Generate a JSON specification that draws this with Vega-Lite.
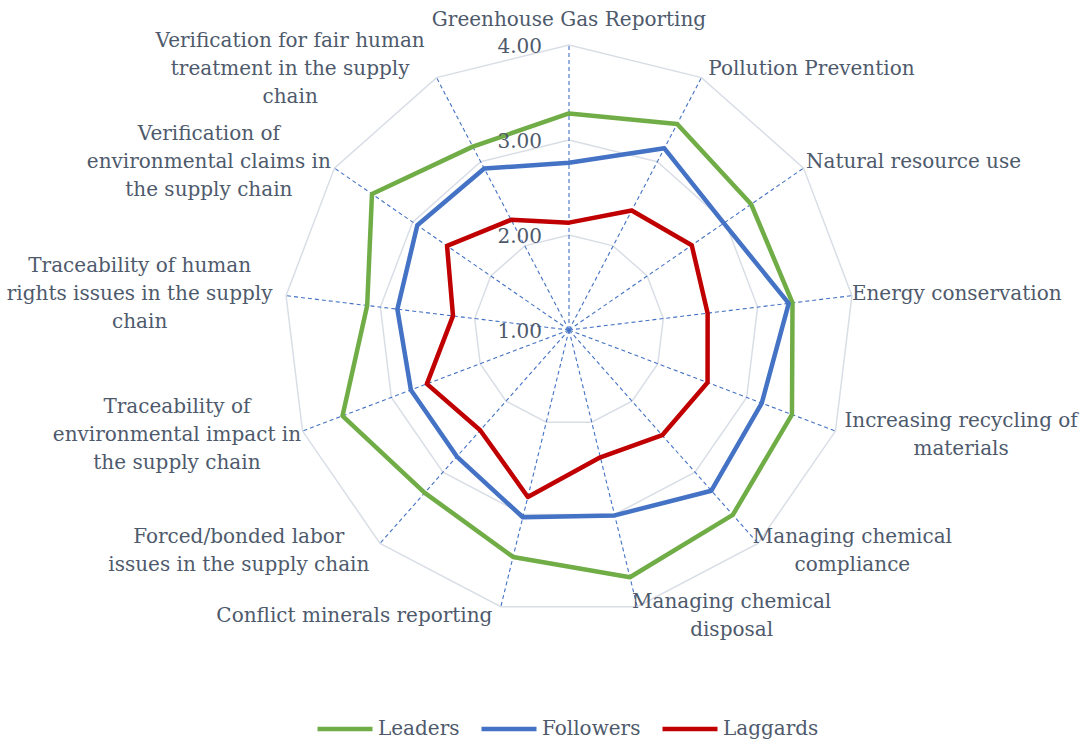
{
  "$schema": "https://vega.github.io/schema/vega-lite/v6.json",
  "width": 570,
  "height": 570,
  "autosize": {"type": "none"},
  "padding": {"left": 284, "top": 45, "right": 230, "bottom": 127},
  "background": "white",
  "config": {"view": {"stroke": null}, "font": "DejaVu Serif"},
  "datasets": {
    "cats": [
      {"category": "Greenhouse Gas Reporting", "label": "Greenhouse Gas Reporting", "Leaders": 3.28, "Followers": 2.76, "Laggards": 2.13},
      {"category": "Pollution Prevention", "label": "Pollution Prevention", "Leaders": 3.45, "Followers": 3.16, "Laggards": 2.42},
      {"category": "Natural resource use", "label": "Natural resource use", "Leaders": 3.33, "Followers": 2.98, "Laggards": 2.57},
      {"category": "Energy conservation", "label": "Energy conservation", "Leaders": 3.37, "Followers": 3.33, "Laggards": 2.47},
      {"category": "Increasing recycling of materials", "label": "Increasing recycling of\nmaterials", "Leaders": 3.51, "Followers": 3.17, "Laggards": 2.56},
      {"category": "Managing chemical compliance", "label": "Managing chemical\ncompliance", "Leaders": 3.60, "Followers": 3.26, "Laggards": 2.48},
      {"category": "Managing chemical disposal", "label": "Managing chemical\ndisposal", "Leaders": 3.68, "Followers": 3.01, "Laggards": 2.38},
      {"category": "Conflict minerals reporting", "label": "Conflict minerals reporting", "Leaders": 3.46, "Followers": 3.03, "Laggards": 2.81},
      {"category": "Forced/bonded labor issues in the supply chain", "label": "Forced/bonded labor\nissues in the supply chain", "Leaders": 3.29, "Followers": 2.78, "Laggards": 2.41},
      {"category": "Traceability of environmental impact in the supply chain", "label": "Traceability of\nenvironmental impact in\nthe supply chain", "Leaders": 3.55, "Followers": 2.78, "Laggards": 2.60},
      {"category": "Traceability of human rights issues in the supply chain", "label": "Traceability of human\nrights issues in the supply\nchain", "Leaders": 3.14, "Followers": 2.82, "Laggards": 2.23},
      {"category": "Verification of environmental claims in the supply chain", "label": "Verification of\nenvironmental claims in\nthe supply chain", "Leaders": 3.52, "Followers": 2.94, "Laggards": 2.56},
      {"category": "Verification for fair human treatment in the supply chain", "label": "Verification for fair human\ntreatment in the supply\nchain", "Leaders": 3.18, "Followers": 2.92, "Laggards": 2.31}
    ],
    "ticks": [
      {"level": 1, "text": "1.00"},
      {"level": 2, "text": "2.00"},
      {"level": 3, "text": "3.00"},
      {"level": 4, "text": "4.00"}
    ]
  },
  "layer": [
    {
      "data": {"name": "cats"},
      "transform": [
        {"window": [{"op": "row_number", "as": "rn"}]},
        {"calculate": "(datum.rn - 1) * 2 * PI / 13", "as": "angle"},
        {"calculate": "[2, 3, 4]", "as": "lv"},
        {"flatten": ["lv"]},
        {"calculate": "(datum.lv - 1) * sin(datum.angle)", "as": "rx"},
        {"calculate": "(datum.lv - 1) * cos(datum.angle)", "as": "ry"}
      ],
      "mark": {"type": "line", "interpolate": "linear-closed", "color": "#D9DEE6", "strokeWidth": 1.5},
      "encoding": {
        "x": {"field": "rx", "type": "quantitative", "scale": {"domain": [-3, 3], "nice": false, "zero": false}, "axis": null},
        "y": {"field": "ry", "type": "quantitative", "scale": {"domain": [-3, 3], "nice": false, "zero": false}, "axis": null},
        "detail": {"field": "lv"},
        "order": {"field": "rn", "type": "quantitative"}
      }
    },
    {
      "data": {"name": "cats"},
      "transform": [
        {"window": [{"op": "row_number", "as": "rn"}]},
        {"calculate": "(datum.rn - 1) * 2 * PI / 13", "as": "angle"},
        {"calculate": "0", "as": "zero"},
        {"calculate": "3 * sin(datum.angle)", "as": "sx"},
        {"calculate": "3 * cos(datum.angle)", "as": "sy"}
      ],
      "mark": {"type": "rule", "color": "#4472C4", "strokeWidth": 1.1, "strokeDash": [4, 3]},
      "encoding": {
        "x": {"field": "zero", "type": "quantitative"},
        "y": {"field": "zero", "type": "quantitative"},
        "x2": {"field": "sx"},
        "y2": {"field": "sy"}
      }
    },
    {
      "data": {"name": "cats"},
      "transform": [
        {"window": [{"op": "row_number", "as": "rn"}]},
        {"calculate": "(datum.rn - 1) * 2 * PI / 13", "as": "angle"},
        {"fold": ["Leaders", "Followers", "Laggards"], "as": ["group", "value"]},
        {"calculate": "(datum.value - 1) * sin(datum.angle)", "as": "px"},
        {"calculate": "(datum.value - 1) * cos(datum.angle)", "as": "py"}
      ],
      "mark": {"type": "line", "interpolate": "linear-closed", "strokeWidth": 4.5, "strokeJoin": "round"},
      "encoding": {
        "x": {"field": "px", "type": "quantitative"},
        "y": {"field": "py", "type": "quantitative"},
        "order": {"field": "rn", "type": "quantitative"},
        "color": {
          "field": "group",
          "type": "nominal",
          "sort": ["Leaders", "Followers", "Laggards"],
          "scale": {"domain": ["Leaders", "Followers", "Laggards"], "range": ["#70AD47", "#4472C4", "#C00000"]},
          "legend": {
            "title": null,
            "orient": "none",
            "direction": "horizontal",
            "legendX": 31,
            "legendY": 654,
            "padding": 0,
            "symbolType": "stroke",
            "symbolSize": 3025,
            "symbolStrokeWidth": 4.5,
            "labelFont": "DejaVu Serif",
            "labelFontSize": 20,
            "labelColor": "#4E5A6C",
            "labelOffset": 3,
            "columnPadding": 12
          }
        }
      }
    },
    {
      "data": {"name": "ticks"},
      "transform": [
        {"calculate": "0", "as": "zero"},
        {"calculate": "datum.level - 1", "as": "ty"}
      ],
      "mark": {"type": "text", "align": "right", "baseline": "middle", "dx": -27, "dy": 2, "fontSize": 20, "font": "DejaVu Serif", "color": "#4E5A6C"},
      "encoding": {
        "x": {"field": "zero", "type": "quantitative"},
        "y": {"field": "ty", "type": "quantitative"},
        "text": {"field": "text"}
      }
    },
    {
      "data": {"name": "cats"},
      "transform": [
        {"window": [{"op": "row_number", "as": "rn"}]},
        {"calculate": "(datum.rn - 1) * 2 * PI / 13", "as": "angle"},
        {"calculate": "split(datum.label, '\\n')", "as": "lines"},
        {"calculate": "split(datum.label + '\\n\\n', '\\n')", "as": "parts"},
        {"calculate": "max(length(datum.parts[0]), length(datum.parts[1]), length(datum.parts[2]))", "as": "maxLen"},
        {"calculate": "abs(sin(datum.angle)) < 0.01 ? 0 : (sin(datum.angle) > 0 ? 1 : -1)", "as": "sg"},
        {"calculate": "3 * sin(datum.angle) + datum.sg * (datum.maxLen * 5.2 + 6) / 95", "as": "lx"},
        {"calculate": "3 * cos(datum.angle) - (cos(datum.angle) > 0.99 ? -25 : (-10 * cos(datum.angle))) / 95 + (length(datum.lines) - 1) * 14 / 95", "as": "ly"}
      ],
      "mark": {"type": "text", "align": "center", "baseline": "middle", "lineBreak": "\n", "lineHeight": 28, "fontSize": 20, "font": "DejaVu Serif", "color": "#4E5A6C"},
      "encoding": {
        "x": {"field": "lx", "type": "quantitative"},
        "y": {"field": "ly", "type": "quantitative"},
        "text": {"field": "label"}
      }
    }
  ]
}
